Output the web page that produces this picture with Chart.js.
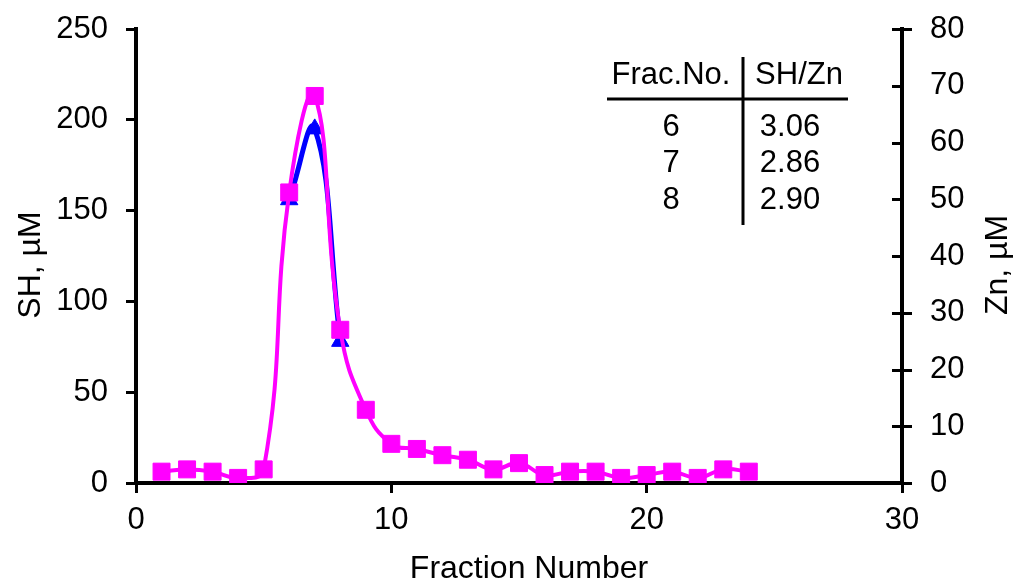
<!DOCTYPE html>
<html>
<head>
<meta charset="utf-8">
<script src="https://cdn.jsdelivr.net/npm/chart.js@4"></script>
<style>
  html, body { margin: 0; padding: 0; background: #fff; }
  #wrap { width: 1013px; height: 582px; }
</style>
</head>
<body>
<div id="wrap"><canvas id="fracChart"></canvas></div>
<script>
// fraction numbers and measured values
const fractions = [1, 2, 3, 4, 5, 6, 7, 8, 9, 10, 11, 12, 13, 14, 15, 16, 17, 18, 19, 20, 21, 22, 23, 24];
const znValues = [2.0, 2.4, 2.0, 0.9, 2.4, 51.2, 68.2, 27.0, 12.9, 6.9, 6.0, 4.9, 4.1, 2.4, 3.5, 1.4, 2.0, 2.0, 0.9, 1.4, 2.0, 0.9, 2.4, 2.0];
const shFractions = [6, 7, 8];
const shValues = [156, 195, 78];

// inset table
const tableHeader = ['Frac.No.', 'SH/Zn'];
const tableFrac = ['6', '7', '8'];
const tableRatio = ['3.06', '2.86', '2.90'];

const xTicks = [0, 10, 20, 30];
const FONT = 'Arial, "Liberation Sans", sans-serif';
const TICK_SIZE = 31;
const TITLE_SIZE = 32;

const insetTable = {
  id: 'insetTable',
  afterDraw(chart) {
    const ctx = chart.ctx;
    ctx.save();
    ctx.fillStyle = '#000';
    ctx.strokeStyle = '#000';
    ctx.font = '31px ' + FONT;
    ctx.textBaseline = 'middle';
    ctx.textAlign = 'center';
    ctx.fillText(tableHeader[0], 671, 75);
    ctx.fillText(tableHeader[1], 799, 75);
    tableFrac.forEach((t, i) => ctx.fillText(t, 671, 127 + i * 36.5));
    tableRatio.forEach((t, i) => ctx.fillText(t, 790, 127 + i * 36.5));
    ctx.lineWidth = 3;
    ctx.beginPath();
    ctx.moveTo(607, 99); ctx.lineTo(848, 99);
    ctx.moveTo(743, 57); ctx.lineTo(743, 225);
    ctx.stroke();
    ctx.restore();
  }
};

// right axis tick marks, plus axis titles (right one reads bottom-to-top)
const axisExtras = {
  id: 'axisExtras',
  afterDraw(chart) {
    const ctx = chart.ctx;
    const s = chart.scales.y1;
    const x = chart.chartArea.right;
    ctx.save();
    ctx.strokeStyle = '#000';
    ctx.lineWidth = 3;
    ctx.beginPath();
    s.ticks.forEach(t => {
      const y = Math.round(s.getPixelForValue(t.value)) + 0.5;
      const outer = (t.value <= 30 || t.value === 80) ? 10 : 0;
      ctx.moveTo(x - 10, y);
      ctx.lineTo(x + outer, y);
    });
    ctx.stroke();
    ctx.restore();

    const title = (text, x, y, rot) => {
      ctx.save();
      ctx.fillStyle = '#000';
      ctx.font = TITLE_SIZE + 'px ' + FONT;
      ctx.textAlign = 'center';
      ctx.textBaseline = 'middle';
      ctx.translate(x, y);
      if (rot) ctx.rotate(-Math.PI / 2);
      ctx.fillText(text, 0, 0);
      ctx.restore();
    };
    title('SH, µM', 31, 265, true);
    title('Zn, µM', 998, 265, true);
    title('Fraction Number', 529, 569, false);
  }
};

const fitY = width => s => {
  s.width = width;
  s.paddingTop = 0;
  s.paddingBottom = 0;
};

new Chart(document.getElementById('fracChart'), {
  type: 'line',
  data: {
    datasets: [
      {
        label: 'Zn',
        data: fractions.map((f, i) => ({ x: f, y: znValues[i] })),
        yAxisID: 'y1',
        borderColor: '#ff00ff',
        backgroundColor: '#ff00ff',
        borderWidth: 4,
        tension: 0.45,
        pointStyle: 'rect',
        pointRadius: 12,
        pointBorderWidth: 1,
        order: 0
      },
      {
        label: 'SH',
        data: shFractions.map((f, i) => ({ x: f, y: shValues[i] })),
        yAxisID: 'y',
        borderColor: '#0000ff',
        backgroundColor: '#0000ff',
        borderWidth: 5,
        tension: 0.45,
        pointStyle: 'triangle',
        pointRadius: 10,
        pointBorderWidth: 1,
        order: 1
      }
    ]
  },
  options: {
    responsive: true,
    maintainAspectRatio: false,
    animation: false,
    layout: { padding: { top: 29, left: 0, right: 0, bottom: 0 } },
    plugins: {
      legend: { display: false },
      tooltip: { enabled: false }
    },
    scales: {
      x: {
        type: 'linear',
        position: 'bottom',
        min: 0,
        max: 30,
        afterBuildTicks: s => { s.ticks = xTicks.map(v => ({ value: v })); },
        afterFit: s => { s.height = 99; s.paddingLeft = 0; s.paddingRight = 0; },
        ticks: { color: '#000', font: { size: TICK_SIZE, family: FONT }, padding: 9, maxRotation: 0 },
        grid: { drawOnChartArea: false, color: '#000', lineWidth: 3, tickLength: 10 },
        border: { color: '#000', width: 4 }
      },
      y: {
        position: 'left',
        min: 0,
        max: 250,
        ticks: { stepSize: 50, color: '#000', font: { size: TICK_SIZE, family: FONT }, padding: 18 },
        afterFit: fitY(136),
        grid: { drawOnChartArea: false, color: '#000', lineWidth: 3, tickLength: 10 },
        border: { color: '#000', width: 4 }
      },
      y1: {
        position: 'right',
        min: 0,
        max: 80,
        ticks: { stepSize: 10, color: '#000', font: { size: TICK_SIZE, family: FONT }, padding: 18 },
        afterFit: fitY(111),
        grid: { drawOnChartArea: false, color: 'rgba(0,0,0,0)', lineWidth: 3, tickLength: 10 },
        border: { color: '#000', width: 4 }
      }
    }
  },
  plugins: [insetTable, axisExtras]
});
</script>
</body>
</html>
